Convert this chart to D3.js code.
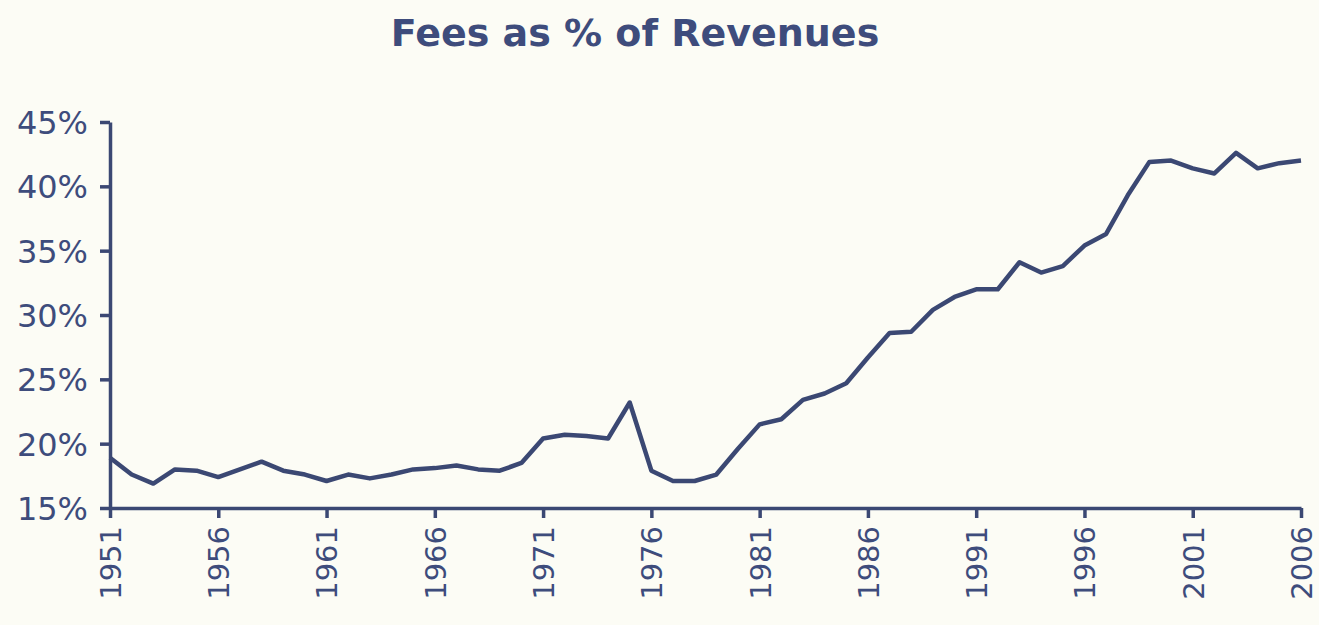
<!DOCTYPE html>
<html>
<head>
<meta charset="utf-8">
<script src="https://cdn.jsdelivr.net/npm/d3@7"></script>
<style>
  html, body { margin: 0; padding: 0; background: #fcfcf5; }
  svg { display: block; }
  .axis path, .axis line { stroke: #3b4873; stroke-width: 3.5; }
  .axis text { fill: #3e4c7c; font-family: "DejaVu Sans", Verdana, sans-serif; }
</style>
</head>
<body>
<script>
const totalWidth = 1319;
const totalHeight = 625;

const title = 'Fees as % of Revenues';

const years = [
  1951, 1952, 1953, 1954, 1955, 1956, 1957, 1958, 1959, 1960,
  1961, 1962, 1963, 1964, 1965, 1966, 1967, 1968, 1969, 1970,
  1971, 1972, 1973, 1974, 1975, 1976, 1977, 1978, 1979, 1980,
  1981, 1982, 1983, 1984, 1985, 1986, 1987, 1988, 1989, 1990,
  1991, 1992, 1993, 1994, 1995, 1996, 1997, 1998, 1999, 2000,
  2001, 2002, 2003, 2004, 2005, 2006
];

// fees as % of revenues
const feesPct = [
  18.9, 17.6, 16.9, 18.0, 17.9, 17.4, 18.0, 18.6, 17.9, 17.6,
  17.1, 17.6, 17.3, 17.6, 18.0, 18.1, 18.3, 18.0, 17.9, 18.5,
  20.4, 20.7, 20.6, 20.4, 23.2, 17.9, 17.1, 17.1, 17.6, 19.6,
  21.5, 21.9, 23.4, 23.9, 24.7, 26.7, 28.6, 28.7, 30.4, 31.4,
  32.0, 32.0, 34.1, 33.3, 33.8, 35.4, 36.3, 39.3, 41.9, 42.0,
  41.4, 41.0, 42.6, 41.4, 41.8, 42.0
];

const yTicks = [15, 20, 25, 30, 35, 40, 45];
const xTicks = [1951, 1956, 1961, 1966, 1971, 1976, 1981, 1986, 1991, 1996, 2001, 2006];

const data = years.map((yr, i) => [yr, feesPct[i]]);

const x = d3.scaleLinear().domain([1951, 2006]).range([110, 1301]);
const y = d3.scaleLinear().domain([15, 45]).range([508, 122]);

const svg = d3.select('body').append('svg')
  .attr('width', totalWidth)
  .attr('height', totalHeight);

svg.append('text')
  .attr('x', 635)
  .attr('y', 46)
  .attr('text-anchor', 'middle')
  .attr('font-family', '"DejaVu Sans", Verdana, sans-serif')
  .attr('font-weight', 'bold')
  .attr('font-size', 38)
  .attr('fill', '#3e4c7c')
  .text(title);

svg.append('g')
  .attr('class', 'axis')
  .attr('transform', `translate(${x(1951)}, 0)`)
  .call(d3.axisLeft(y).tickValues(yTicks).tickSize(10).tickSizeOuter(0).tickPadding(12).tickFormat(d => d + '%'))
  .selectAll('text')
    .attr('font-size', 32)
    .attr('dy', '0.36em');

const xAxis = svg.append('g')
  .attr('class', 'axis')
  .attr('transform', `translate(0, ${y(15)})`)
  .call(d3.axisBottom(x).tickValues(xTicks).tickSize(10).tickSizeOuter(0).tickFormat(d3.format('d')));

xAxis.selectAll('text')
  .attr('font-size', 29)
  .attr('text-anchor', 'end')
  .attr('transform', 'rotate(-90)')
  .attr('x', -18)
  .attr('y', 0)
  .attr('dy', '0.36em');

const graphLine = d3.line()
  .x(d => x(d[0]))
  .y(d => y(d[1]));

svg.append('path')
  .datum(data)
  .attr('fill', 'none')
  .attr('stroke', '#3b4873')
  .attr('stroke-width', 4.5)
  .attr('stroke-linejoin', 'round')
  .attr('d', graphLine);
</script>
</body>
</html>
